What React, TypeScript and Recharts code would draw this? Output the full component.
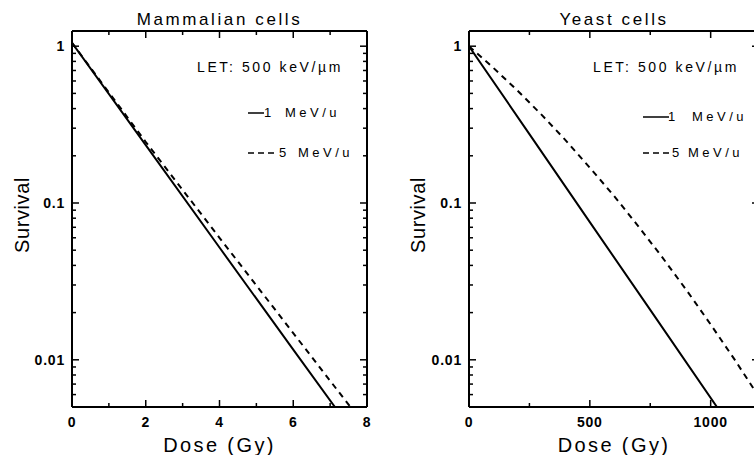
import React from 'react';
import { LineChart, Line, XAxis, YAxis } from 'recharts';

// ---------- data ----------
const mammalDose1 = [0, 2, 4, 6, 7.13];
const mammalSurv1 = [1.05, 0.234, 0.052, 0.0116, 0.005];
const mammalDose5 = [0, 2, 4, 6, 7.55];
const mammalSurv5 = [1.05, 0.245, 0.06, 0.0148, 0.005];

const yeastDose1 = [0, 250, 500, 750, 1026];
const yeastSurv1 = [1.0, 0.275, 0.0755, 0.0208, 0.005];
const yeastDose5 = [0, 100, 200, 300, 400, 500, 600, 700, 800, 900, 1000, 1100, 1200];
const yeastSurv5 = [1.0, 0.73, 0.522, 0.366, 0.251, 0.168, 0.111, 0.0713, 0.045, 0.0278, 0.0168, 0.00998, 0.0058];

const survivalTicks = [
  0.005, 0.006, 0.007, 0.008, 0.009,
  0.01, 0.02, 0.03, 0.04, 0.05, 0.06, 0.07, 0.08, 0.09,
  0.1, 0.2, 0.3, 0.4, 0.5, 0.6, 0.7, 0.8, 0.9, 1,
];
const survivalMajor = [0.01, 0.1, 1];
const survivalLabels = ['0.01', '0.1', '1'];
const survivalDomain = [0.005, 1.25];

const mammalDoseTicks = [0, 1, 2, 3, 4, 5, 6, 7, 8];
const mammalDoseMajor = [0, 2, 4, 6, 8];
const yeastDoseTicks = [0, 250, 500, 750, 1000];
const yeastDoseMajor = [0, 500, 1000];

const seriesNames = ['1 MeV/u', '5 MeV/u'];
const letText = 'LET: 500 keV/\u00b5m';

const toPts = (ds: number[], ss: number[]) => ds.map((d, i) => ({ d, s: ss[i] }));

const FONT = '"Liberation Sans", Arial, Helvetica, sans-serif';

// ---------- ticks ----------
function LeftTick(props: any) {
  const { x, y, payload } = props;
  const idx = survivalMajor.indexOf(payload.value);
  const major = idx >= 0;
  return (
    <g>
      <line x1={x} x2={x + (major ? 7 : 4)} y1={y} y2={y} stroke="#000" strokeWidth={1.5} />
      {major && (
        <text x={x - 7} y={y + 5} textAnchor="end" fontSize={14} fontWeight="bold" fontFamily={FONT} fill="#000" letterSpacing={0.8}>
          {survivalLabels[idx]}
        </text>
      )}
    </g>
  );
}

function RightTick(props: any) {
  const { x, y, payload } = props;
  const major = survivalMajor.indexOf(payload.value) >= 0;
  return <line x1={x} x2={x - (major ? 7 : 4)} y1={y} y2={y} stroke="#000" strokeWidth={1.5} />;
}

function makeBottomTick(majors: number[]) {
  return function BottomTick(props: any) {
    const { x, y, payload } = props;
    const major = majors.indexOf(payload.value) >= 0;
    return (
      <g>
        <line x1={x} x2={x} y1={y} y2={y - (major ? 7 : 4)} stroke="#000" strokeWidth={1.5} />
        {major && (
          <text x={x} y={y + 20} textAnchor="middle" fontSize={14} fontWeight="bold" fontFamily={FONT} fill="#000" letterSpacing={0.8}>
            {String(payload.value)}
          </text>
        )}
      </g>
    );
  };
}

function makeTopTick(majors: number[]) {
  return function TopTick(props: any) {
    const { x, y, payload } = props;
    const major = majors.indexOf(payload.value) >= 0;
    return <line x1={x} x2={x} y1={y} y2={y + (major ? 7 : 4)} stroke="#000" strokeWidth={1.5} />;
  };
}

function makeSurvivalLabel(dx: number) {
  return function SurvivalLabel(props: any) {
    const vb = props.viewBox || { x: 0, y: 0, width: 0, height: 0 };
    const cx = vb.x + dx;
    const cy = vb.y + vb.height / 2 - 4;
    return (
      <text
        x={cx}
        y={cy}
        transform={`rotate(-90 ${cx} ${cy})`}
        textAnchor="middle"
        dominantBaseline="central"
        fontSize={20}
        fontFamily={FONT}
        fill="#000"
        letterSpacing={0.6}
      >
        Survival
      </text>
    );
  };
}

type PanelProps = {
  width: number;
  marginLeft: number;
  yAxisWidth: number;
  marginRight: number;
  xDomain: number[];
  xTicks: number[];
  xMajor: number[];
  title: string;
  solid: { d: number; s: number }[];
  dashed: { d: number; s: number }[];
  survDx: number;
};

function Panel(p: PanelProps) {
  const BottomTick = makeBottomTick(p.xMajor);
  const TopTick = makeTopTick(p.xMajor);
  const SurvLabel = makeSurvivalLabel(p.survDx);
  const axisLine = { stroke: '#000', strokeWidth: 2 };
  return (
    <LineChart
      width={p.width}
      height={455}
      margin={{ top: 30, right: p.marginRight, bottom: 18, left: p.marginLeft }}
    >
      <XAxis
        xAxisId="b"
        type="number"
        dataKey="d"
        orientation="bottom"
        domain={p.xDomain}
        ticks={p.xTicks}
        interval={0}
        allowDataOverflow
        height={30}
        tickSize={0}
        tickMargin={0}
        tickLine={false}
        axisLine={axisLine}
        tick={<BottomTick />}
        label={{
          value: 'Dose  (Gy)',
          position: 'bottom',
          offset: 1,
          fontSize: 20,
          fontFamily: FONT,
          fill: '#000',
          letterSpacing: 2.4,
        }}
      />
      <XAxis
        xAxisId="t"
        type="number"
        dataKey="d"
        orientation="top"
        domain={p.xDomain}
        ticks={p.xTicks}
        interval={0}
        allowDataOverflow
        height={1}
        tickSize={0}
        tickMargin={0}
        tickLine={false}
        axisLine={axisLine}
        tick={<TopTick />}
        label={{
          value: p.title,
          position: 'top',
          offset: 5,
          fontSize: 17,
          fontFamily: FONT,
          fill: '#000',
          letterSpacing: 2.6,
        }}
      />
      <YAxis
        yAxisId="l"
        type="number"
        scale="log"
        domain={survivalDomain}
        ticks={survivalTicks}
        interval={0}
        allowDataOverflow
        width={p.yAxisWidth}
        tickSize={0}
        tickMargin={0}
        tickLine={false}
        axisLine={axisLine}
        tick={<LeftTick />}
        label={{ value: 'Survival', content: <SurvLabel /> }}
      />
      <YAxis
        yAxisId="r"
        type="number"
        orientation="right"
        scale="log"
        domain={survivalDomain}
        ticks={survivalTicks}
        interval={0}
        allowDataOverflow
        width={1}
        tickSize={0}
        tickMargin={0}
        tickLine={false}
        axisLine={axisLine}
        tick={<RightTick />}
      />
      <Line
        xAxisId="b"
        yAxisId="l"
        data={p.solid}
        dataKey="s"
        type="linear"
        stroke="#000"
        strokeWidth={2}
        dot={false}
        isAnimationActive={false}
        name={seriesNames[0]}
      />
      <Line
        xAxisId="b"
        yAxisId="l"
        data={p.dashed}
        dataKey="s"
        type="linear"
        stroke="#000"
        strokeWidth={2}
        strokeDasharray="6 5"
        dot={false}
        isAnimationActive={false}
        name={seriesNames[1]}
      />
    </LineChart>
  );
}

function LegendBox(props: {
  letLeft: number;
  letWidthSpacing: number;
  rows: { top: number; left: number; lineW: number; dashed: boolean; numLeft: number; num: string; unitLeft: number }[];
}) {
  const txt: React.CSSProperties = {
    position: 'absolute',
    fontFamily: FONT,
    color: '#000',
    whiteSpace: 'nowrap',
    lineHeight: 1,
  };
  return (
    <>
      <div style={{ ...txt, left: props.letLeft, top: 60, fontSize: 14, letterSpacing: props.letWidthSpacing }}>{letText}</div>
      {props.rows.map((r, i) => (
        <React.Fragment key={i}>
          <svg style={{ position: 'absolute', left: r.left, top: r.top - 2 }} width={r.lineW} height={4}>
            <line x1={0} x2={r.lineW} y1={2} y2={2} stroke="#000" strokeWidth={1.5} strokeDasharray={r.dashed ? '6 4' : undefined} />
          </svg>
          <div style={{ ...txt, left: r.numLeft, top: r.top - 7, fontSize: 13 }}>{r.num}</div>
          <div style={{ ...txt, left: r.unitLeft, top: r.top - 7, fontSize: 13, letterSpacing: 3.5 }}>MeV/u</div>
        </React.Fragment>
      ))}
    </>
  );
}

export default function App() {
  const mammal1 = toPts(mammalDose1, mammalSurv1);
  const mammal5 = toPts(mammalDose5, mammalSurv5);
  const yeast1 = toPts(yeastDose1, yeastSurv1);
  const yeast5 = toPts(yeastDose5, yeastSurv5);
  return (
    <div
      style={{
        position: 'absolute',
        left: 0,
        top: 0,
        width: 754,
        height: 455,
        overflow: 'hidden',
        background: '#fff',
        fontFamily: FONT,
      }}
    >
      <div style={{ position: 'absolute', left: 0, top: 0 }}>
        <Panel
          width={380}
          marginLeft={10}
          yAxisWidth={62}
          marginRight={12}
          xDomain={[0, 8]}
          xTicks={mammalDoseTicks}
          xMajor={mammalDoseMajor}
          title="Mammalian cells"
          solid={mammal1}
          dashed={mammal5}
          survDx={12}
        />
      </div>
      <div style={{ position: 'absolute', left: 378, top: 0 }}>
        <Panel
          width={399}
          marginLeft={10}
          yAxisWidth={81}
          marginRight={17}
          xDomain={[0, 1200]}
          xTicks={yeastDoseTicks}
          xMajor={yeastDoseMajor}
          title="Yeast cells"
          solid={yeast1}
          dashed={yeast5}
          survDx={30}
        />
      </div>
      <LegendBox
        letLeft={197}
        letWidthSpacing={2.6}
        rows={[
          { top: 113, left: 248, lineW: 16, dashed: false, numLeft: 264, num: '1', unitLeft: 285 },
          { top: 153, left: 248, lineW: 30, dashed: true, numLeft: 279, num: '5', unitLeft: 298 },
        ]}
      />
      <LegendBox
        letLeft={593}
        letWidthSpacing={2.6}
        rows={[
          { top: 117, left: 643, lineW: 26, dashed: false, numLeft: 668, num: '1', unitLeft: 692 },
          { top: 153, left: 643, lineW: 28, dashed: true, numLeft: 672, num: '5', unitLeft: 688 },
        ]}
      />
    </div>
  );
}
